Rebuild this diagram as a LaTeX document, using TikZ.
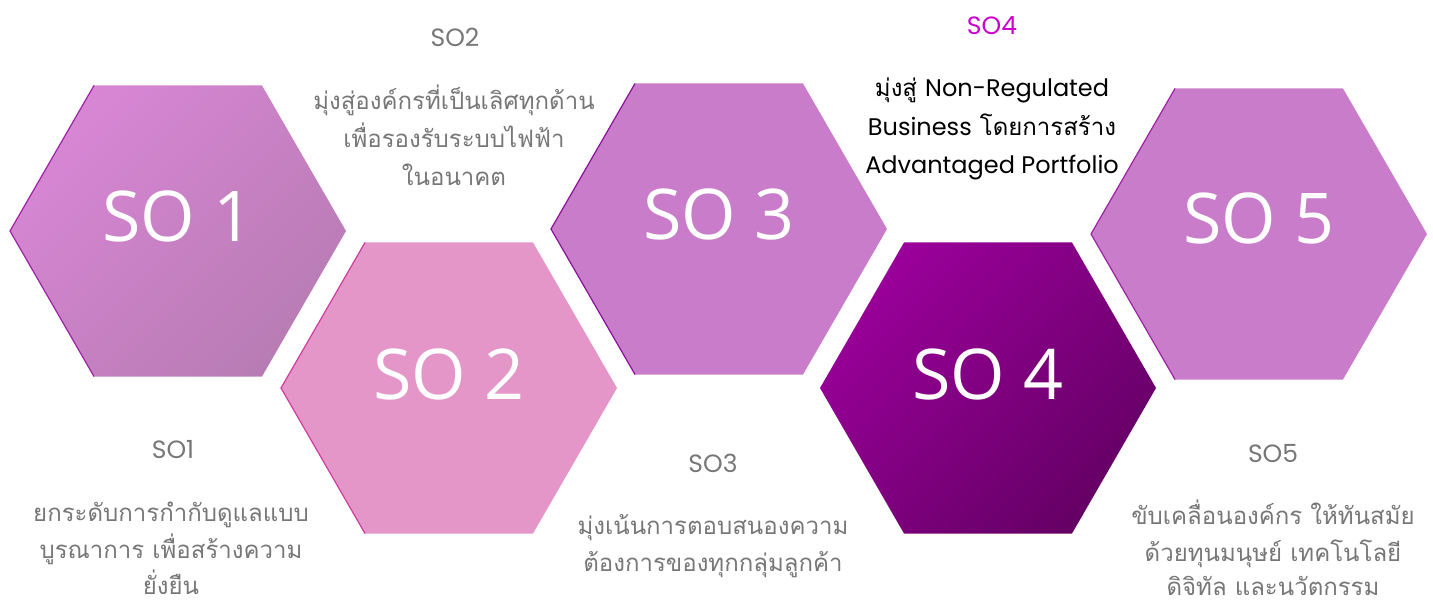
\documentclass[tikz,border=0pt]{standalone}
\usepackage{fontspec}
\setmainfont{Open Sans}
\newfontfamily\thaifont[Script=Thai]{Loma}
\newfontfamily\latfont{Poppins}
\definecolor{soA}{HTML}{D886D4}
\definecolor{soB}{HTML}{B87CB4}
\definecolor{soTwo}{HTML}{E496C9}
\definecolor{soThree}{HTML}{C97CC9}
\definecolor{soFourA}{HTML}{9A009A}
\definecolor{soFourB}{HTML}{650065}
\definecolor{edgeA}{HTML}{A020A8}
\definecolor{edgeB}{HTML}{D03CA0}
\definecolor{edgeC}{HTML}{8E0E9E}
\definecolor{greytxt}{HTML}{777777}
\definecolor{magtxt}{HTML}{CC00CC}
\tikzset{
  hexnum/.style={font=\fontsize{70}{70}\selectfont, text=white},
  solabel/.style={font=\latfont\fontsize{25}{25}\selectfont, text=greytxt, anchor=base},
  descline/.style={font=\thaifont\fontsize{24}{24}\selectfont, text=greytxt, anchor=base, inner sep=0pt},
  edgeline/.style={line width=1.2pt},
}
\newcommand{\hexat}[3]{% center x, center y, fill options
  \path[#3] (#1-168,#2) -- (#1-84,#2-145.5) -- (#1+84,#2-145.5) -- (#1+168,#2) -- (#1+84,#2+145.5) -- (#1-84,#2+145.5) -- cycle;}
\newcommand{\hexedge}[3]{%
  \draw[edgeline, #3] (#1-84,#2-145.5) -- (#1-168,#2) -- (#1-84,#2+145.5);}
\begin{document}
\begin{tikzpicture}[x=1pt,y=-1pt]
\useasboundingbox (0,0) rectangle (1433,604);
% hexagons
\hexat{178}{231}{top color=soA, bottom color=soB, shading angle=45}
\hexedge{178}{231}{edgeA}
\hexat{449}{388}{fill=soTwo}
\hexedge{449}{388}{edgeB}
\hexat{719}{229}{fill=soThree}
\hexedge{719}{229}{edgeC}
\hexat{988}{388}{top color=soFourA, bottom color=soFourB, shading angle=45}
\hexat{1259}{234}{fill=soThree}
\hexedge{1259}{234}{edgeA}
\node[hexnum] (h1) at (178,216) {SO 1};
\node[hexnum] (h2) at (449,374) {SO 2};
\node[hexnum] (h3) at (719,214) {SO 3};
\node[hexnum] (h4) at (988,374) {SO 4};
\node[hexnum] (h5) at (1259,218) {SO 5};
% SO1 text
\node[solabel] (l1) at (173,458) {SO1};
\node[descline] (d1a) at (171,521) {ยกระดับการกำกับดูแลแบบ};
\node[descline] (d1b) at (171,558) {บูรณาการ เพื่อสร้างความ};
\node[descline] (d1c) at (171,594) {ยั่งยืน};
% SO2 text
\node[solabel] (l2) at (455,47) {SO2};
\node[descline] (d2a) at (454,110) {มุ่งสู่องค์กรที่เป็นเลิศทุกด้าน};
\node[descline] (d2b) at (454,148) {เพื่อรองรับระบบไฟฟ้า};
\node[descline] (d2c) at (454,186) {ในอนาคต};
% SO3 text
\node[solabel] (l3) at (713,472) {SO3};
\node[descline] (d3a) at (713,534) {มุ่งเน้นการตอบสนองความ};
\node[descline] (d3b) at (713,571) {ต้องการของทุกกลุ่มลูกค้า};
% SO4 text
\node[solabel, text=magtxt] (l4) at (992,35) {SO4};
\node[descline, text=black] (d4a) at (992,97) {มุ่งสู่ {\latfont Non-Regulated}};
\node[descline, text=black] (d4b) at (992,136) {{\latfont Business} โดยการสร้าง};
\node[descline, text=black, font=\latfont\fontsize{24}{24}\selectfont] (d4c) at (992,174) {Advantaged Portfolio};
% SO5 text
\node[solabel] (l5) at (1273,462) {SO5};
\node[descline] (d5a) at (1273,524) {ขับเคลื่อนองค์กร ให้ทันสมัย};
\node[descline] (d5b) at (1273,561) {ด้วยทุนมนุษย์ เทคโนโลยี};
\node[descline] (d5c) at (1273,595) {ดิจิทัล และนวัตกรรม};
\end{tikzpicture}
\end{document}
